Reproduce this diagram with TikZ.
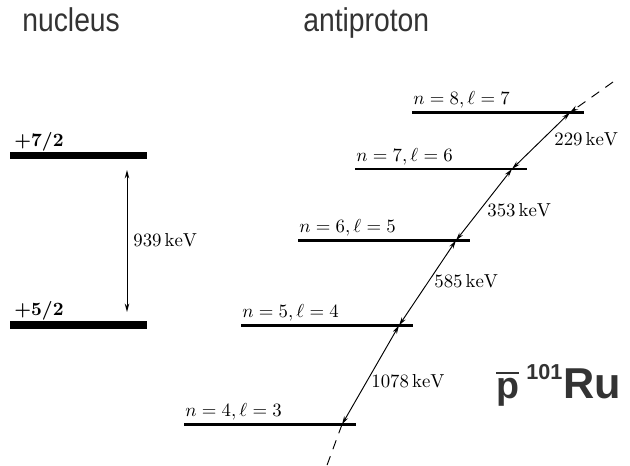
\documentclass[tikz,border=0pt]{standalone}
\usepackage{fontspec}
\usepackage{amsmath}
\newfontfamily\titlefont{Liberation Sans}
\usetikzlibrary{arrows.meta}
\definecolor{titlegray}{HTML}{333333}
\tikzset{
  nucbar/.style={line width=4pt},
  levelline/.style={line width=1.1pt},
  trans/.style={line width=0.5pt,{Stealth[length=4.5pt,width=2.4pt]}-{Stealth[length=4.5pt,width=2.4pt]}},
  incoming/.style={line width=0.5pt,dash pattern=on 5pt off 4pt,-{Stealth[length=4.5pt,width=2.4pt]}},
  outgoing/.style={line width=0.5pt,dash pattern=on 5pt off 4pt},
  lvllabel/.style={anchor=base west,inner sep=0pt,font=\fontsize{10.4}{12}\selectfont},
  elabel/.style={anchor=base west,inner sep=0pt},
  titletext/.style={anchor=base west,inner sep=0pt,text=titlegray},
}
\begin{document}
\begin{tikzpicture}[x=0.532pt,y=-0.532pt]
\useasboundingbox (0,0) rectangle (630,466);
% titles
\node[titletext] (tnuc) at (22,32) {\scalebox{0.86}[1]{\titlefont\fontsize{17.5}{20}\selectfont nucleus}};
\node[titletext] (tanti) at (303,32) {\scalebox{0.86}[1]{\titlefont\fontsize{17.5}{20}\selectfont antiproton}};
% nucleus levels
\coordinate (n7l) at (10,155.5); \coordinate (n7r) at (147,155.5);
\coordinate (n5l) at (10,325);   \coordinate (n5r) at (147,325);
\draw[nucbar] (n7l) -- (n7r);
\draw[nucbar] (n5l) -- (n5r);
\node[lvllabel] (lsevenhalf) at (14,147) {$\boldsymbol{+7/2}$};
\node[lvllabel] (lfivehalf) at (14,316) {$\boldsymbol{+5/2}$};
\coordinate (na) at (127,170); \coordinate (nb) at (127,312);
\draw[trans] (na) -- (nb);
\node[elabel] (e939) at (133,247) {$939\,\mathrm{keV}$};
% antiproton levels
\foreach \nm/\x/\y/\n/\l in {a8/412/112.5/8/7, a7/355/169/7/6, a6/298/240.5/6/5, a5/241/325.5/5/4, a4/184/424.5/4/3}{
  \coordinate (\nm l) at (\x,\y);
  \coordinate (\nm r) at (\x+172,\y);
  \draw[levelline] (\nm l) -- (\nm r);
  \node[lvllabel] (\nm lab) at (\x+1,\y-7.5) {$n=\n,\ell=\l$};
}
% cascade points
\coordinate (t) at (613,82);
\coordinate (p8) at (570,112.5);
\coordinate (p7) at (512,169);
\coordinate (p6) at (456,240.5);
\coordinate (p5) at (399,325.5);
\coordinate (p4) at (342,424.5);
\coordinate (b) at (326,468);
\draw[incoming] (t) -- (p8);
\draw[trans] (p8) -- (p7);
\draw[trans] (p7) -- (p6);
\draw[trans] (p6) -- (p5);
\draw[trans] (p5) -- (p4);
\draw[outgoing] (p4) -- (b);
\node[elabel] (e229) at (554,146) {$229\,\mathrm{keV}$};
\node[elabel] (e353) at (487,217) {$353\,\mathrm{keV}$};
\node[elabel] (e585) at (434,288) {$585\,\mathrm{keV}$};
\node[elabel] (e1078) at (371,388) {$1078\,\mathrm{keV}$};
% atom label
\node[titletext] (pbar) at (496,399) {\titlefont\bfseries\fontsize{20}{24}\selectfont$\overline{\hbox{p}}$};
\node[titletext] (mass) at (526,380) {\titlefont\bfseries\fontsize{11.5}{12}\selectfont 101};
\node[titletext] (elem) at (563,399) {\titlefont\bfseries\fontsize{23}{26}\selectfont Ru};
\end{tikzpicture}
\end{document}
